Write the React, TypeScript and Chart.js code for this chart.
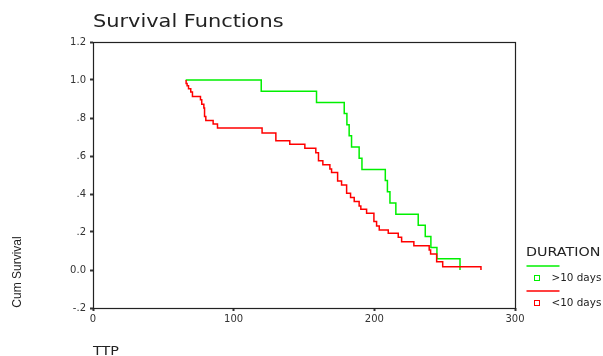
import React, { useEffect, useRef } from "react";
import { Chart, registerables } from "chart.js";

Chart.register(...registerables);

const chartTitle = "Survival Functions";
const xAxisLabel = "TTP";
const yAxisLabel = "Cum Survival";
const legendTitle = "DURATION";
const groupLabels = [">10 days", "<10 days"];
const groupColors = ["#00f000", "#ff0000"];

const xTicks = [0, 100, 200, 300];
const yTicks = [-0.2, 0, 0.2, 0.4, 0.6, 0.8, 1.0, 1.2];
const yTickLabels = ["-.2", "0.0", ".2", ".4", ".6", ".8", "1.0", "1.2"];

// DURATION > 10 days
const longTimes = [65.9, 119.6, 158.9, 178.6, 180.5, 182.1, 183.8, 189.2, 191.2, 207.8, 209.3, 211.1, 215.3, 231.2, 236.2, 240.2, 244.5, 260.9];
const longSurv = [1.0, 0.941, 0.882, 0.824, 0.765, 0.706, 0.647, 0.588, 0.529, 0.471, 0.412, 0.353, 0.294, 0.235, 0.176, 0.118, 0.059, 0.0];

// DURATION < 10 days
const shortTimes = [66.2, 66.2, 66.9, 67.9, 69.5, 70.7, 76.4, 77.3, 78.8, 79.3, 80.2, 85.4, 88.5, 120.2, 130.0, 139.9, 150.6, 158.4, 160.3, 163.4, 168.4, 169.6, 173.9, 176.7, 180.3, 183.1, 185.7, 189.2, 190.4, 194.5, 199.7, 201.6, 203.5, 209.9, 217.0, 219.4, 228.1, 239.0, 240.0, 244.3, 248.6, 275.8];
const shortSurv = [1.0, 0.982, 0.970, 0.954, 0.937, 0.913, 0.896, 0.873, 0.852, 0.808, 0.787, 0.768, 0.747, 0.721, 0.680, 0.662, 0.641, 0.617, 0.575, 0.554, 0.531, 0.513, 0.469, 0.448, 0.404, 0.381, 0.360, 0.337, 0.320, 0.299, 0.255, 0.232, 0.211, 0.193, 0.172, 0.149, 0.127, 0.105, 0.084, 0.044, 0.017, 0.0];

const FONT = '"DejaVu Sans", Verdana, sans-serif';

function stretchedText(ctx: CanvasRenderingContext2D, text: string, x: number, y: number, sx: number) {
  ctx.save();
  ctx.translate(x, y);
  ctx.scale(sx, 1);
  ctx.fillText(text, 0, 0);
  ctx.restore();
}

const decorPlugin = {
  id: "decor",
  afterDraw(chart: any) {
    const ctx: CanvasRenderingContext2D = chart.ctx;
    const a = chart.chartArea;
    ctx.save();
    // frame
    ctx.strokeStyle = "#222";
    ctx.lineWidth = 1.2;
    ctx.strokeRect(a.left + 0.5, a.top + 0.5, a.right - a.left, a.bottom - a.top);

    ctx.fillStyle = "#222";
    ctx.textAlign = "left";
    ctx.textBaseline = "alphabetic";
    // title
    ctx.font = `18px ${FONT}`;
    stretchedText(ctx, chartTitle, 93, 27, 1.16);
    // x axis label
    ctx.font = `12.5px ${FONT}`;
    stretchedText(ctx, xAxisLabel, 93, 355, 1.15);
    // y axis label
    ctx.save();
    ctx.translate(21, 272);
    ctx.rotate(-Math.PI / 2);
    ctx.textAlign = "center";
    ctx.font = `12px "Liberation Sans Narrow", "Liberation Sans", sans-serif`;
    ctx.fillText(yAxisLabel, 0, 0);
    ctx.restore();

    // legend
    ctx.font = `13px ${FONT}`;
    stretchedText(ctx, legendTitle, 526, 256, 1.1);
    const rows = [266, 291];
    ctx.font = `10px ${FONT}`;
    ctx.textBaseline = "middle";
    rows.forEach((ly, i) => {
      ctx.strokeStyle = groupColors[i];
      ctx.lineWidth = 1.5;
      ctx.beginPath();
      ctx.moveTo(526.5, ly);
      ctx.lineTo(559.5, ly);
      ctx.stroke();
      ctx.lineWidth = 1;
      ctx.strokeRect(534.5, ly + 9.5, 5, 5);
      ctx.fillStyle = "#222";
      stretchedText(ctx, groupLabels[i], 551.5, ly + 12, 1.04);
    });
    ctx.restore();
  },
};

export default function App() {
  const ref = useRef<HTMLCanvasElement | null>(null);

  useEffect(() => {
    if (!ref.current) return;
    const chart = new Chart(ref.current, {
      type: "line",
      data: {
        datasets: [
          {
            label: groupLabels[1],
            data: shortTimes.map((t, i) => ({ x: t, y: shortSurv[i] })),
            borderColor: groupColors[1],
            borderWidth: 1.5,
            stepped: "before",
            pointRadius: 0,
            fill: false,
          },
          {
            label: groupLabels[0],
            data: longTimes.map((t, i) => ({ x: t, y: longSurv[i] })),
            borderColor: groupColors[0],
            borderWidth: 1.5,
            stepped: "before",
            pointRadius: 0,
            fill: false,
          },
        ],
      },
      options: {
        animation: false,
        responsive: false,
        devicePixelRatio: 1,
        layout: { padding: { left: 0, top: 42, right: 88, bottom: 0 } },
        plugins: {
          legend: { display: false },
          title: { display: false },
          tooltip: { enabled: false },
        },
        scales: {
          x: {
            type: "linear",
            min: 0,
            max: 300,
            afterBuildTicks: (s: any) => {
              s.ticks = xTicks.map((v) => ({ value: v }));
            },
            afterFit: (s: any) => {
              s.height = 48;
            },
            grid: { drawOnChartArea: false, drawTicks: true, tickLength: 3, tickWidth: 2, tickColor: "#333" },
            border: { display: false },
            ticks: {
              font: { family: FONT, size: 10 },
              color: "#333",
              padding: 2,
              maxRotation: 0,
              autoSkip: false,
            },
          },
          y: {
            type: "linear",
            min: -0.2,
            max: 1.2,
            afterBuildTicks: (s: any) => {
              s.ticks = yTicks.map((v) => ({ value: v }));
            },
            afterFit: (s: any) => {
              s.width = 93;
            },
            grid: { drawOnChartArea: false, drawTicks: true, tickLength: 3, tickWidth: 2, tickColor: "#333" },
            border: { display: false },
            ticks: {
              font: { family: FONT, size: 10 },
              color: "#333",
              padding: 4,
              autoSkip: false,
              callback: (_v: any, i: number) => yTickLabels[i],
            },
          },
        },
      },
      plugins: [decorPlugin],
    } as any);
    return () => chart.destroy();
  }, []);

  return (
    <div style={{ position: "absolute", left: 0, top: 0, width: 603, height: 356, background: "#fff" }}>
      <canvas ref={ref} width={603} height={356} style={{ display: "block" }} />
    </div>
  );
}
